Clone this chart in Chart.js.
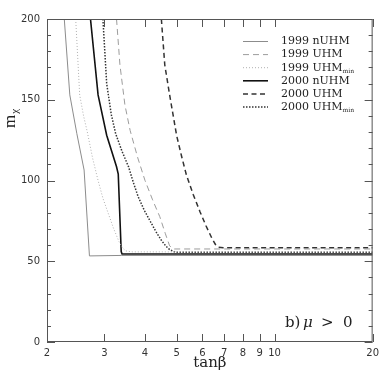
<!DOCTYPE html>
<html>
<head>
<meta charset="utf-8">
<script src="https://cdn.jsdelivr.net/npm/chart.js@4/dist/chart.umd.min.js"></script>
<style>
  html, body { margin: 0; padding: 0; background: #fff; }
  #wrap { width: 384px; height: 382px; }
</style>
</head>
<body>
<div id="wrap"><canvas id="c" width="384" height="382"></canvas></div>
<script>
// tick labels
const xTicks = [2, 3, 4, 5, 6, 7, 8, 9, 10, 20];
const yMajor = [0, 50, 100, 150, 200];
const yMinor = [10, 20, 30, 40, 60, 70, 80, 90, 110, 120, 130, 140, 160, 170, 180, 190];

// series: tan(beta) and m_chi
const labels = ['1999 nUHM', '1999 UHM', '1999 UHM_min', '2000 nUHM', '2000 UHM', '2000 UHM_min'];

const tb99n = [2.26, 2.35, 2.47, 2.60, 2.70, 3.39, 20];
const m99n  = [200, 153, 129, 106.5, 53.3, 53.6, 53.6];

const tb99u = [3.27, 3.35, 3.47, 3.60, 3.80, 4.00, 4.22, 4.44, 4.62, 4.76, 4.92, 20];
const m99u  = [200, 171.5, 146.7, 131, 114, 100, 88, 77.6, 67, 59.5, 57.6, 57.6];

const tb99m = [2.45, 2.52, 2.59, 2.66, 2.76, 2.87, 2.97, 3.08, 3.20, 3.33, 3.41, 3.49, 3.65, 20];
const m99m  = [200, 153, 140, 130, 114, 100, 89, 80, 70.5, 62, 58.3, 56.4, 55.8, 55.8];

const tb00n = [2.72, 2.87, 3.05, 3.27, 3.31, 3.38, 3.40, 20];
const m00n  = [200, 153, 128, 108.5, 104, 56, 54.5, 54.5];

const tb00u = [4.49, 4.60, 4.76, 5.0, 5.18, 5.36, 5.62, 5.90, 6.16, 6.42, 6.58, 6.72, 6.95, 20];
const m00u  = [200, 171.5, 153, 128, 115, 103.4, 91.5, 80.7, 71.8, 64.2, 60.4, 58.7, 58.4, 58.4];

const tb00m = [2.97, 3.05, 3.15, 3.25, 3.40, 3.56, 3.68, 3.81, 3.98, 4.17, 4.33, 4.49, 4.63, 4.76, 4.95, 20];
const m00m  = [200, 160, 141, 129, 118, 108.5, 99, 90, 81.5, 74, 68, 63, 59.5, 57.2, 55.6, 55.6];

const pts = (xs, ys) => xs.map((x, i) => ({ x: x, y: ys[i] }));

const styles = [
    { color: '#8c8c8c', width: 1,   dash: [] },
    { color: '#9c9c9c', width: 1,   dash: [6, 4] },
    { color: '#b0b0b0', width: 1,   dash: [1, 2] },
    { color: '#111111', width: 1.6, dash: [] },
    { color: '#333333', width: 1.5, dash: [5, 3.5] },
    { color: '#333333', width: 1.5, dash: [1.5, 1.5] }
];
const series = [pts(tb99n, m99n), pts(tb99u, m99u), pts(tb99m, m99m),
                pts(tb00n, m00n), pts(tb00u, m00u), pts(tb00m, m00m)];

const datasets = series.map((d, i) => ({
    label: labels[i],
    data: d,
    borderColor: styles[i].color,
    borderWidth: styles[i].width,
    borderDash: styles[i].dash,
    tension: 0,
    pointRadius: 0,
    fill: false
}));

// draws the box, the inward ticks, titles, legend and the note
const framePlugin = {
    id: 'frame',
    afterDraw(chart) {
        const { ctx, chartArea: a, scales: { x, y } } = chart;
        ctx.save();
        ctx.strokeStyle = '#555';
        ctx.lineWidth = 1;
        ctx.setLineDash([]);
        ctx.strokeRect(a.left + 0.5, a.top + 0.5, a.right - a.left - 1, a.bottom - a.top - 1);

        ctx.beginPath();
        xTicks.forEach(v => {
            const px = Math.round(x.getPixelForValue(v)) + 0.5;
            ctx.moveTo(px, a.bottom); ctx.lineTo(px, a.bottom - 8);
            ctx.moveTo(px, a.top); ctx.lineTo(px, a.top + 8);
        });
        yMajor.forEach(v => {
            const py = Math.round(y.getPixelForValue(v)) + 0.5;
            ctx.moveTo(a.left, py); ctx.lineTo(a.left + 8, py);
            ctx.moveTo(a.right, py); ctx.lineTo(a.right - 8, py);
        });
        yMinor.forEach(v => {
            const py = Math.round(y.getPixelForValue(v)) + 0.5;
            ctx.moveTo(a.left, py); ctx.lineTo(a.left + 4, py);
            ctx.moveTo(a.right, py); ctx.lineTo(a.right - 4, py);
        });
        ctx.stroke();

        // axis titles
        ctx.fillStyle = '#222';
        ctx.font = '15px "DejaVu Serif"';
        ctx.textAlign = 'center';
        ctx.textBaseline = 'alphabetic';
        ctx.fillText('tan\u03B2', (a.left + a.right) / 2, 367);

        ctx.save();
        ctx.translate(15, 128);
        ctx.rotate(-Math.PI / 2);
        ctx.textAlign = 'left';
        ctx.font = '17px "Liberation Serif"';
        ctx.fillText('m', 0, 0);
        const mw = ctx.measureText('m').width;
        ctx.font = '11px "Liberation Serif"';
        ctx.fillText('\u03C7', mw + 1, 3);
        ctx.restore();

        // legend
        const lx0 = 243, lx1 = 268, tx = 281, ly0 = 41, dy = 13.1;
        chart.data.datasets.forEach((ds, i) => {
            const ly = ly0 + i * dy;
            ctx.strokeStyle = ds.borderColor;
            ctx.lineWidth = ds.borderWidth;
            ctx.setLineDash(ds.borderDash);
            ctx.beginPath();
            ctx.moveTo(lx0, ly + 0.5); ctx.lineTo(lx1, ly + 0.5);
            ctx.stroke();
            const [main, sub] = ds.label.split('_');
            ctx.fillStyle = '#222';
            ctx.textAlign = 'left';
            ctx.textBaseline = 'middle';
            ctx.font = '11px "DejaVu Serif"';
            ctx.fillText(main, tx, ly + 0.5);
            if (sub) {
                const w = ctx.measureText(main).width;
                ctx.font = '6px "DejaVu Serif"';
                ctx.fillText(sub, tx + w, ly + 4);
            }
        });
        ctx.setLineDash([]);

        // note
        ctx.fillStyle = '#222';
        ctx.textBaseline = 'alphabetic';
        ctx.textAlign = 'left';
        const ny = 327;
        ctx.font = '15px "DejaVu Serif"';
        ctx.fillText('b)', 285, ny);
        ctx.font = 'italic 15px "DejaVu Serif"';
        ctx.fillText('\u03BC', 303, ny);
        ctx.font = '15px "DejaVu Serif"';
        ctx.fillText('>', 321, ny);
        ctx.fillText('0', 343, ny);
        ctx.restore();
    }
};

new Chart(document.getElementById('c'), {
    type: 'line',
    data: { datasets: datasets },
    options: {
        responsive: false,
        animation: false,
        events: [],
        layout: { padding: { top: 19, right: 11, left: 0, bottom: 0 } },
        plugins: { legend: { display: false }, tooltip: { enabled: false } },
        scales: {
            x: {
                type: 'logarithmic',
                min: 2,
                max: 20,
                afterBuildTicks: s => { s.ticks = xTicks.map(v => ({ value: v })); },
                afterFit: s => { s.height = 40; },
                grid: { display: false, drawTicks: false },
                border: { display: false },
                ticks: {
                    autoSkip: false,
                    maxRotation: 0,
                    padding: 5,
                    color: '#333',
                    font: { family: 'DejaVu Sans', size: 10 },
                    callback: v => String(v)
                }
            },
            y: {
                min: 0,
                max: 200,
                afterBuildTicks: s => { s.ticks = yMajor.map(v => ({ value: v })); },
                afterFit: s => { s.width = 47; },
                grid: { display: false, drawTicks: false },
                border: { display: false },
                ticks: {
                    padding: 7,
                    color: '#333',
                    font: { family: 'DejaVu Sans', size: 10 }
                }
            }
        }
    },
    plugins: [framePlugin]
});
</script>
</body>
</html>
